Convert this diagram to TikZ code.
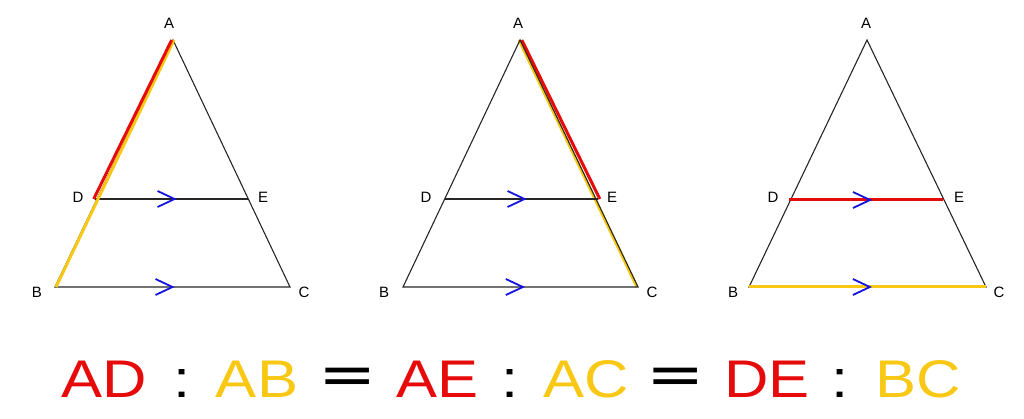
\documentclass[tikz,border=0pt]{standalone}
\usepackage{fontspec}
\setmainfont{Liberation Sans}
\newfontfamily\eqfont[FakeStretch=1.16]{Liberation Sans}
\newfontfamily\eqsym[FakeStretch=1.2]{DejaVu Sans}
\usetikzlibrary{calc}
\definecolor{segred}{RGB}{230,10,10}
\definecolor{segyel}{RGB}{248,200,20}
\definecolor{chevblue}{RGB}{20,20,225}
\tikzset{
  side/.style={draw=black!85, line width=1.1pt},
  redseg/.style={draw=segred, line width=3pt},
  yelseg/.style={draw=segyel, line width=3pt},
  vlabel/.style={font=\fontsize{15}{15}\selectfont, inner sep=0pt},
  eqtok/.style={font=\eqfont\fontsize{53}{53}\selectfont, inner sep=0pt, anchor=base},
  eqsymtok/.style={font=\eqsym\fontsize{58}{58}\selectfont, inner sep=0pt, anchor=base},
  chev/.pic={\draw[chevblue, line width=1.8pt] (-17,-8) -- (0,0) -- (-17,8);}
}
\begin{document}
\begin{tikzpicture}[x=1pt,y=-1pt]
\useasboundingbox (0,0) rectangle (1024,419);
% ---------- triangle 1 ----------
\coordinate (A1) at (173,40);
\coordinate (B1) at (55,287);
\coordinate (C1) at (290,287);
\coordinate (D1) at (95,199);
\coordinate (E1) at (248,199);
\draw[side] (A1) -- (B1) -- (C1) -- cycle;
\draw[side] (D1) -- (E1);
\draw[yelseg] ([xshift=1pt]A1) -- ([xshift=1pt]B1);
\draw[redseg] ([xshift=-1.3pt]A1) -- ([xshift=-1.3pt]D1);
\pic at ($(D1)!0.52!(E1)$) {chev};
\pic at ($(B1)!0.50!(C1)$) {chev};
\node[vlabel] (lA1) at (169,23) {A};
\node[vlabel] (lD1) at (78,197) {D};
\node[vlabel] (lE1) at (263,197) {E};
\node[vlabel] (lB1) at (37,292) {B};
\node[vlabel] (lC1) at (304,292) {C};
% ---------- triangle 2 ----------
\coordinate (A2) at (520,40);
\coordinate (B2) at (403,287);
\coordinate (C2) at (638,287);
\coordinate (D2) at (445,199);
\coordinate (E2) at (598,199);
\draw[yelseg] ([xshift=-1pt]A2) -- ([xshift=-1pt]C2);
\draw[redseg] ([xshift=1.8pt]A2) -- ([xshift=1.8pt]E2);
\draw[side] (A2) -- (B2) -- (C2) -- cycle;
\draw[side] (D2) -- (E2);
\pic at ($(D2)!0.52!(E2)$) {chev};
\pic at ($(B2)!0.51!(C2)$) {chev};
\node[vlabel] (lA2) at (518,23) {A};
\node[vlabel] (lD2) at (426,197) {D};
\node[vlabel] (lE2) at (612,197) {E};
\node[vlabel] (lB2) at (384,292) {B};
\node[vlabel] (lC2) at (652,292) {C};
% ---------- triangle 3 ----------
\coordinate (A3) at (867,40);
\coordinate (B3) at (749,287);
\coordinate (C3) at (986,287);
\coordinate (D3) at (789,200);
\coordinate (E3) at (943,200);
\draw[side] (A3) -- (B3) -- (C3) -- cycle;
\draw[redseg] (D3) -- (E3);
\draw[yelseg] (B3) -- (C3);
\pic at ($(D3)!0.526!(E3)$) {chev};
\pic at ($(B3)!0.51!(C3)$) {chev};
\node[vlabel] (lA3) at (866,23) {A};
\node[vlabel] (lD3) at (773,197) {D};
\node[vlabel] (lE3) at (959,197) {E};
\node[vlabel] (lB3) at (733,292) {B};
\node[vlabel] (lC3) at (999,292) {C};
% ---------- equation ----------
\node[eqtok, text=segred] (tAD) at (104,397) {AD};
\node[eqtok] (c1) at (182,397) {:};
\node[eqtok, text=segyel] (tAB) at (257,397) {AB};
\node[eqsymtok] (eq1) at (348,394) {=};
\node[eqtok, text=segred] (tAE) at (437,397) {AE};
\node[eqtok] (c2) at (510,397) {:};
\node[eqtok, text=segyel] (tAC) at (586,397) {AC};
\node[eqsymtok] (eq2) at (676,394) {=};
\node[eqtok, text=segred] (tDE) at (767,397) {DE};
\node[eqtok] (c3) at (840,397) {:};
\node[eqtok, text=segyel] (tBC) at (918,397) {BC};
\end{tikzpicture}
\end{document}
